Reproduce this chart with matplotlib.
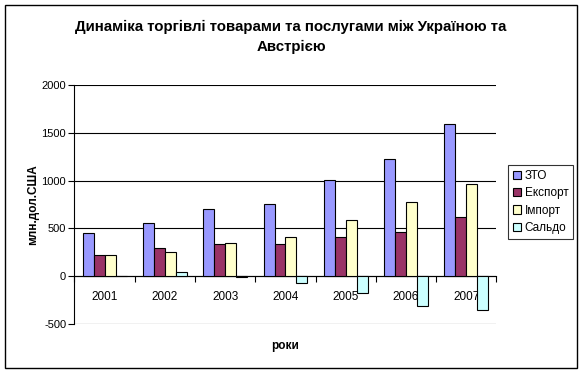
import numpy as np
import matplotlib.pyplot as plt
from matplotlib.patches import Rectangle

plt.rcParams['font.family'] = ['Liberation Sans', 'DejaVu Sans']
plt.rcParams['axes.unicode_minus'] = False

years = ["2001", "2002", "2003", "2004", "2005", "2006", "2007"]
zto = [447, 553, 700, 753, 1007, 1228, 1587]
export = [225, 299, 341, 341, 415, 458, 616]
imports = [225, 257, 352, 415, 591, 774, 964]
saldo = [0, 40, -11, -76, -176, -312, -350]

series = [("ЗТО", zto, "#9999FF"),
          ("Експорт", export, "#993366"),
          ("Імпорт", imports, "#FFFFCC"),
          ("Сальдо", saldo, "#CCFFFF")]

fig = plt.figure(figsize=(5.82, 3.72), dpi=100)
ax = fig.add_axes([0.128, 0.129, 0.725, 0.6425])

x = np.arange(len(years))
w = 1 / 5.5
for i, (name, vals, col) in enumerate(series):
    ax.bar(x - 0.5 + 0.75 * w + i * w + w / 2, vals, w, color=col,
           edgecolor="black", linewidth=0.8, label=name, zorder=3)

ax.set_xlim(-0.5, len(years) - 0.5)
ax.set_ylim(-500, 2000)
ax.set_yticks(range(-500, 2001, 500))
ax.yaxis.grid(True, color="black", linewidth=0.8)
ax.tick_params(axis="y", direction="out", length=4, width=0.8, labelsize=8, pad=2)

ax.spines["top"].set_visible(False)
ax.spines["right"].set_visible(False)
ax.spines["bottom"].set_position(("data", 0))
ax.spines["bottom"].set_linewidth(0.8)
ax.spines["left"].set_linewidth(0.8)
ax.set_xticks(x)
ax.set_xticklabels(years)
ax.set_xticks(np.arange(-0.5, len(years)), minor=True)
ax.tick_params(axis="x", which="major", length=0, labelsize=8.5, pad=11)
ax.tick_params(axis="x", which="minor", direction="out", length=4, width=0.8)

ax.set_ylabel("млн.дол.США", fontsize=8.5, fontweight="bold")
ax.yaxis.set_label_coords(-0.085, 0.5)
fig.text(0.49, 0.071, "роки", fontsize=8.5, fontweight="bold", ha="center", va="center")

fig.text(0.5, 0.927, "Динаміка торгівлі товарами та послугами між Україною та",
         fontsize=10.8, fontweight="bold", ha="center", va="center")
fig.text(0.5, 0.874, "Австрією", fontsize=10.8, fontweight="bold", ha="center", va="center")

leg = ax.legend(loc="upper left", bbox_to_anchor=(0.873, 0.556), bbox_transform=fig.transFigure,
                fontsize=8.5, frameon=True, fancybox=False, borderaxespad=0,
                handlelength=0.7, handleheight=0.7, handletextpad=0.3,
                borderpad=0.4, labelspacing=0.45)
leg.get_frame().set_edgecolor("black")
leg.get_frame().set_linewidth(0.8)

fig.patches.append(Rectangle((5 / 582, 4 / 372), 572 / 582, 363 / 372, transform=fig.transFigure,
                             fill=False, edgecolor="black", linewidth=1))

fig.savefig("out.png", dpi=100)
